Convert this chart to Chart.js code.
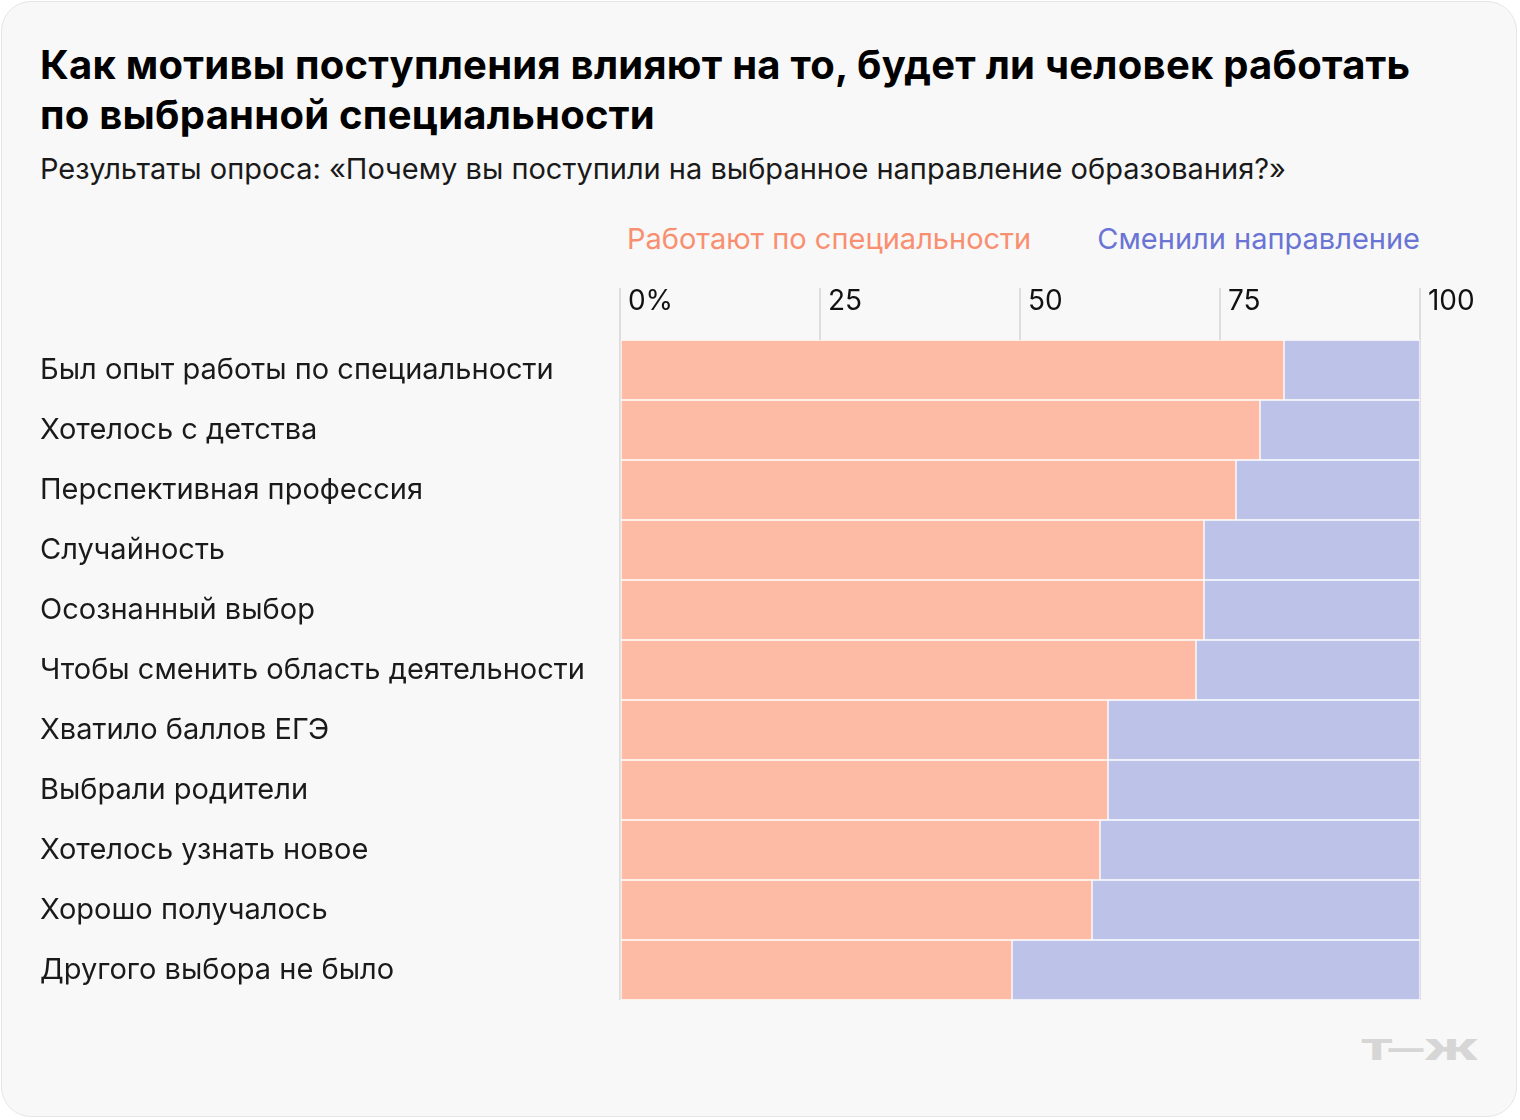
<!DOCTYPE html>
<html lang="ru">
<head>
<meta charset="utf-8">
<script src="https://cdn.jsdelivr.net/npm/chart.js@4.4.1/dist/chart.umd.min.js"></script>
<style>
  html, body { margin: 0; padding: 0; background: #ffffff; }
  body { width: 1520px; height: 1120px; position: relative; overflow: hidden; font-family: 'Inter', sans-serif; }
  #card { position: absolute; left: 1px; top: 1px; width: 1516px; height: 1116px; background: #f8f8f8; border: 1px solid #e6e6e6; border-radius: 30px; box-sizing: border-box; }
  #title { position: absolute; left: 40px; top: 40px; font-size: 40px; line-height: 50px; font-weight: 700; letter-spacing: 0.25px; color: #000; white-space: nowrap; }
  #subtitle { position: absolute; left: 40px; top: 152px; font-size: 29px; line-height: 34px; color: #1a1a1a; white-space: nowrap; }
  .leg { position: absolute; top: 222px; font-size: 29px; line-height: 34px; white-space: nowrap; }
  #leg1 { left: 627px; color: #f88f70; }
  #leg2 { right: 100px; color: #6a74d4; }
  #logo { position: absolute; right: 42px; top: 1032px; font-family: 'Roboto'; font-size: 30px; font-weight: 900; color: #d6d6d6; transform-origin: right center; transform: scaleX(1.7); }
  #wrap { position: absolute; left: 0; top: 260px; width: 1520px; height: 760px; }
</style>
</head>
<body>
<div id="card"></div>
<div id="title">Как мотивы поступления влияют на то, будет ли человек работать<br>по выбранной специальности</div>
<div id="subtitle">Результаты опроса: «Почему вы поступили на выбранное направление образования?»</div>
<div id="leg1" class="leg">Работают по специальности</div>
<div id="leg2" class="leg">Сменили направление</div>
<div id="logo">Т—Ж</div>
<div id="wrap"><canvas id="c" width="1520" height="760"></canvas></div>
<script>
const categories = [
  'Был опыт работы по специальности',
  'Хотелось с детства',
  'Перспективная профессия',
  'Случайность',
  'Осознанный выбор',
  'Чтобы сменить область деятельности',
  'Хватило баллов ЕГЭ',
  'Выбрали родители',
  'Хотелось узнать новое',
  'Хорошо получалось',
  'Другого выбора не было'
];
const worksBySpecialty = [83, 80, 77, 73, 73, 72, 61, 61, 60, 59, 49];
const changedField     = [17, 20, 23, 27, 27, 28, 39, 39, 40, 41, 51];
const seriesNames = ['Работают по специальности', 'Сменили направление'];
const xTickLabels = ['0%', '25', '50', '75', '100'];

Chart.defaults.font.family = 'Inter';

new Chart(document.getElementById('c'), {
  type: 'bar',
  data: {
    labels: categories,
    datasets: [
      { label: seriesNames[0], data: worksBySpecialty, backgroundColor: '#fdbba6', borderColor: '#ffffff', borderWidth: 1, borderSkipped: false },
      { label: seriesNames[1], data: changedField, backgroundColor: '#bdc3e8', borderColor: '#ffffff', borderWidth: 1, borderSkipped: false }
    ]
  },
  options: {
    indexAxis: 'y',
    responsive: false,
    animation: false,
    events: [],
    layout: { padding: { left: 40, right: 100, top: 28, bottom: 20 } },
    datasets: { bar: { categoryPercentage: 1, barPercentage: 1 } },
    plugins: { legend: { display: false }, tooltip: { enabled: false }, title: { display: false } },
    scales: {
      x: {
        position: 'top',
        stacked: true,
        min: 0, max: 100,
        z: 1,
        border: { display: false },
        grid: { color: 'rgba(0,0,0,0.1)', lineWidth: 2, drawTicks: true, tickLength: 52 },
        ticks: {
          stepSize: 25,
          align: 'start',
          padding: -30,
          color: '#111',
          font: { size: 28 },
          callback: (v, i) => ' ' + xTickLabels[i]
        },
        afterFit: (s) => { s.height = 52; }
      },
      y: {
        stacked: true,
        border: { display: false },
        grid: { display: false, drawTicks: false },
        ticks: { crossAlign: 'far', color: '#1a1a1a', font: { size: 29 }, padding: 0 },
        afterFit: (s) => { s.width = 580; }
      }
    }
  }
});
</script>
</body>
</html>
